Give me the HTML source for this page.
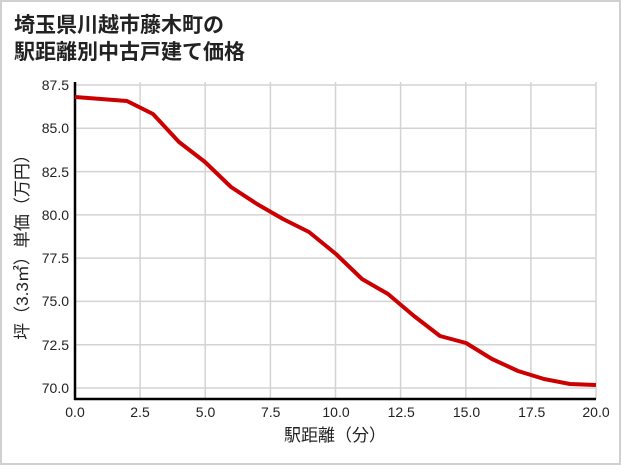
<!DOCTYPE html>
<html><head><meta charset="utf-8"><style>
body{margin:0;background:#fff}
</style></head><body>
<svg width="621" height="465" xmlns="http://www.w3.org/2000/svg" font-family="'Liberation Sans','Noto Sans CJK JP',sans-serif">
<rect x="1" y="1" width="619" height="463" fill="#fff" stroke="#d0d0d0" stroke-width="2"/>
<text x="14" y="32" font-size="21" font-weight="bold" fill="#222">埼玉県川越市藤木町の</text>
<text x="14" y="59" font-size="21" font-weight="bold" fill="#222">駅距離別中古戸建て価格</text>
<g stroke="#d3d3d3" stroke-width="1.5">
<line x1="140.1" y1="82" x2="140.1" y2="399"/>
<line x1="205.2" y1="82" x2="205.2" y2="399"/>
<line x1="270.4" y1="82" x2="270.4" y2="399"/>
<line x1="335.5" y1="82" x2="335.5" y2="399"/>
<line x1="400.6" y1="82" x2="400.6" y2="399"/>
<line x1="465.8" y1="82" x2="465.8" y2="399"/>
<line x1="530.9" y1="82" x2="530.9" y2="399"/>
<line x1="596" y1="82" x2="596" y2="399"/>
</g>
<g stroke="#d3d3d3" stroke-width="1.5">
<line x1="75" y1="85" x2="596" y2="85"/><line x1="75" y1="128.3" x2="596" y2="128.3"/>
<line x1="75" y1="171.6" x2="596" y2="171.6"/><line x1="75" y1="214.9" x2="596" y2="214.9"/>
<line x1="75" y1="258.1" x2="596" y2="258.1"/><line x1="75" y1="301.4" x2="596" y2="301.4"/>
<line x1="75" y1="344.7" x2="596" y2="344.7"/><line x1="75" y1="388" x2="596" y2="388"/>
</g>
<g stroke="#000" stroke-width="2.5"><line x1="75" y1="82" x2="75" y2="400"/><line x1="74" y1="399" x2="596" y2="399"/></g>
<g font-size="14" fill="#222" text-anchor="end">
<text x="69" y="90">87.5</text><text x="69" y="133">85.0</text><text x="69" y="177">82.5</text>
<text x="69" y="220">80.0</text><text x="69" y="263">77.5</text><text x="69" y="306">75.0</text>
<text x="69" y="350">72.5</text><text x="69" y="393">70.0</text>
</g>
<g font-size="14" fill="#222" text-anchor="middle">
<text x="75" y="417">0.0</text><text x="140" y="417">2.5</text><text x="205.5" y="417">5.0</text>
<text x="270.7" y="417">7.5</text><text x="336" y="417">10.0</text><text x="401.2" y="417">12.5</text>
<text x="466.5" y="417">15.0</text><text x="531.7" y="417">17.5</text><text x="596" y="417">20.0</text>
</g>
<text x="335" y="441" font-size="17" fill="#222" text-anchor="middle">駅距離（分）</text>
<text transform="translate(28,243) rotate(-90)" font-size="17" fill="#222" text-anchor="middle">坪（3.3㎡）単価（万円）</text>
<polyline fill="none" stroke="#cc0000" stroke-width="4" stroke-linejoin="round" points="75,97 101,99 127,101 153,114 179,142 205,162 231,187 257,204 283,219 309,232 336,254 362,279 388,294 414,316 440,336 466,343 492,359 518,371 544,379 570,384 596,385"/>
</svg>
</body></html>
